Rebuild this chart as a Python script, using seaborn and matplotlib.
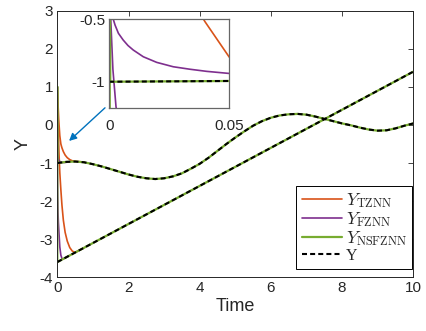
import numpy as np
import pandas as pd
import matplotlib
matplotlib.use("Agg")
import matplotlib.pyplot as plt
import seaborn as sns

# ---------------- data ----------------
# reference trajectory, component 1 (wavy curve)
ref_t = [0.0, 0.25, 0.5, 0.75, 1.0, 1.25, 1.5, 1.75, 2.0, 2.25, 2.5, 2.75,
         3.0, 3.25, 3.5, 3.75, 4.0, 4.25, 4.5, 4.75, 5.0, 5.25, 5.5, 5.75,
         6.0, 6.25, 6.5, 6.75, 7.0, 7.25, 7.5, 7.75, 8.0, 8.25, 8.5, 8.75,
         9.0, 9.25, 9.5, 9.75, 10.0]
ref_y1 = [-1.00, -0.97, -0.96, -0.98, -1.03, -1.09, -1.16, -1.23, -1.30, -1.36, -1.40, -1.42,
          -1.40, -1.35, -1.27, -1.15, -1.02, -0.86, -0.68, -0.50, -0.33, -0.17, -0.02, 0.10,
          0.19, 0.25, 0.28, 0.29, 0.27, 0.22, 0.16, 0.10, 0.04, -0.01, -0.07, -0.12,
          -0.15, -0.14, -0.09, -0.02, 0.04]
# reference trajectory, component 2 (straight line)
ref_y2 = [-3.600, -3.475, -3.350, -3.225, -3.100, -2.975, -2.850, -2.725, -2.600, -2.475, -2.350, -2.225,
          -2.100, -1.975, -1.850, -1.725, -1.600, -1.475, -1.350, -1.225, -1.100, -0.975, -0.850, -0.725,
          -0.600, -0.475, -0.350, -0.225, -0.100, 0.025, 0.150, 0.275, 0.400, 0.525, 0.650, 0.775,
          0.900, 1.025, 1.150, 1.275, 1.400]

# TZNN transient
tz_t = [0.0, 0.01, 0.02, 0.03, 0.04, 0.05, 0.07, 0.10, 0.13, 0.17, 0.22, 0.28, 0.35, 0.42, 0.50, 0.60, 0.75]
tz_y1 = [1.00, 0.75, 0.55, 0.35, 0.15, 0.00, -0.28, -0.50, -0.60, -0.70, -0.79, -0.86, -0.91, -0.94, -0.955, -0.962, -0.975]
tz_y2 = [1.00, 0.55, 0.15, -0.20, -0.52, -0.80, -1.25, -1.70, -2.10, -2.50, -2.82, -3.05, -3.22, -3.31, -3.35, -3.30, -3.225]

# FZNN transient
fz_t1 = [0.0, 0.0005, 0.001, 0.00167, 0.0024, 0.0038, 0.0058, 0.0078, 0.010, 0.0142, 0.0198,
         0.0267, 0.0337, 0.0407, 0.0497, 0.065, 0.08, 0.10, 0.12, 0.16, 0.2, 0.3]
fz_y1 = [1.00, 0.40, -0.10, -0.50, -0.546, -0.612, -0.666, -0.71, -0.746, -0.80, -0.845,
         -0.88, -0.90, -0.917, -0.933, -0.952, -0.965, -0.975, -0.981, -0.985, -0.985, -0.975]
fz_t2 = [0.0, 0.0006, 0.0015, 0.0028, 0.006, 0.01, 0.02, 0.03, 0.045, 0.07, 0.10, 0.14, 0.2, 0.3]
fz_y2 = [1.00, -0.50, -0.90, -1.20, -1.55, -1.85, -2.30, -2.55, -2.80, -3.20, -3.42, -3.53, -3.50, -3.45]

# NSFZNN: starts at 1 and reaches the reference almost immediately
ns_t = [0.0, 0.0004] + ref_t[1:]
ns_y1 = [1.00, -1.00] + ref_y1[1:]
ns_y2 = [1.00, -3.60] + ref_y2[1:]

labels = [r"$Y_{\mathrm{TZNN}}$", r"$Y_{\mathrm{FZNN}}$", r"$Y_{\mathrm{NSFZNN}}$", "Y"]
c_tz, c_fz, c_ns, c_ref = "#D95319", "#7E2F8E", "#77AC30", "black"

# ---------------- style ----------------
sns.set_style("white")
plt.rcParams["font.family"] = ["Liberation Sans", "DejaVu Sans"]
plt.rcParams["mathtext.fontset"] = "cm"
plt.rcParams["axes.unicode_minus"] = False

fig = plt.figure(figsize=(4.27, 3.31), dpi=100)
ax = fig.add_axes([57.3 / 427, (331 - 277.3) / 331, 356 / 427, 266.6 / 331])
axin = fig.add_axes([109.3 / 427, (331 - 107.7) / 331, 119.7 / 427, 88.4 / 331])

dash = (0, (2.4, 1.5))


def draw(a, legend):
    sns.lineplot(x=tz_t, y=tz_y1, ax=a, color=c_tz, lw=1.2, label=labels[0] if legend else None)
    sns.lineplot(x=tz_t, y=tz_y2, ax=a, color=c_tz, lw=1.2)
    sns.lineplot(x=fz_t1, y=fz_y1, ax=a, color=c_fz, lw=1.2, label=labels[1] if legend else None)
    sns.lineplot(x=fz_t2, y=fz_y2, ax=a, color=c_fz, lw=1.2)
    sns.lineplot(x=ns_t, y=ns_y1, ax=a, color=c_ns, lw=1.6, label=labels[2] if legend else None)
    sns.lineplot(x=ns_t, y=ns_y2, ax=a, color=c_ns, lw=1.6)
    sns.lineplot(x=ref_t, y=ref_y1, ax=a, color=c_ref, lw=1.5, linestyle=dash,
                 label=labels[3] if legend else None)
    sns.lineplot(x=ref_t, y=ref_y2, ax=a, color=c_ref, lw=1.5, linestyle=dash)


draw(ax, True)
draw(axin, False)

# main axes
ax.set_xlim(0, 10)
ax.set_ylim(-4, 3)
ax.set_xticks([0, 2, 4, 6, 8, 10])
ax.set_yticks([-4, -3, -2, -1, 0, 1, 2, 3])
ax.set_xlabel("Time", fontsize=13, labelpad=2)
ax.set_ylabel("Y", fontsize=13, labelpad=6)
ax.tick_params(direction="in", length=3.5, width=0.6, labelsize=11, colors="#262626",
               top=True, right=True, pad=3)
for s in ax.spines.values():
    s.set_color("#262626")
    s.set_linewidth(0.7)

leg = ax.legend(loc="lower right", bbox_to_anchor=(0.997, 0.031), borderaxespad=0,
                frameon=True, fancybox=False, framealpha=1,
                handlelength=2.3, handletextpad=0.25, labelspacing=0.0,
                borderpad=0.3, prop={"family": "DejaVu Serif", "size": 12.5})
leg.get_frame().set_edgecolor("black")
leg.get_frame().set_linewidth(0.7)
leg.get_texts()[3].set_fontfamily(["Liberation Serif"])
leg.get_texts()[3].set_fontsize(11.5)

# inset
axin.set_xlim(0, 0.05)
axin.set_ylim(-1.208, -0.5)
axin.set_xticks([0, 0.05])
axin.set_xticklabels(["0", "0.05"])
axin.set_yticks([-1, -0.5])
axin.set_yticklabels(["-1", "-0.5"])
axin.set_xlabel("")
axin.set_ylabel("")
axin.tick_params(direction="in", length=3, width=0.6, labelsize=11, colors="#262626",
                 top=False, right=False, pad=3)
axin.tick_params(axis="x", pad=8)
axin.set_facecolor("white")
for s in axin.spines.values():
    s.set_color("#666666")
    s.set_linewidth(0.9)

# arrow from inset to the region it magnifies
ax.annotate("", xy=(0.33, -0.42), xytext=(1.34, 0.45),
            arrowprops=dict(arrowstyle="-|>", color="#0072BD", lw=1.0, mutation_scale=11,
                            shrinkA=0, shrinkB=0))

fig.savefig("out.png", dpi=100)
